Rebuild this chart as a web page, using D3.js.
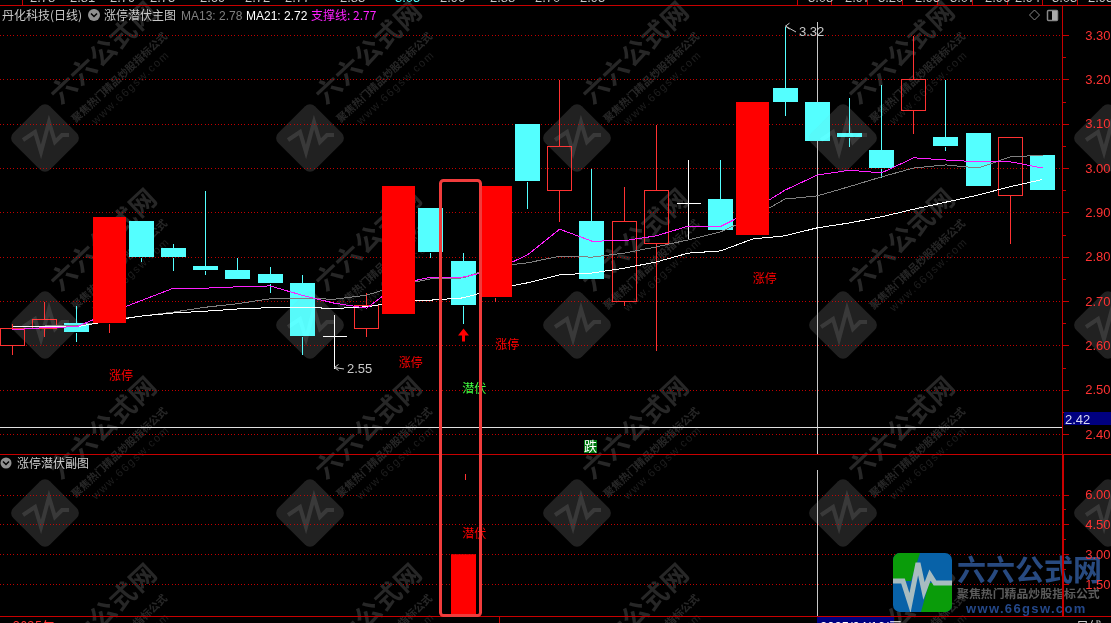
<!DOCTYPE html>
<html><head><meta charset="utf-8">
<style>html,body{margin:0;padding:0;background:#000;overflow:hidden}svg{display:block}</style>
<script src="https://cdn.jsdelivr.net/npm/d3@7/dist/d3.min.js"></script>
</head><body><div id="c"></div>
<script>
const opens  =[2.60,2.64,2.65,2.65,2.88,2.82,2.78,2.77,2.76,2.74,2.62,2.64,2.67,2.91,2.79,2.71,3.10,2.95,2.88,2.70,2.83,2.92,2.93,2.85,3.18,3.15,3.08,3.04,3.13,3.07,3.08,2.94,3.03];
const highs  =[2.65,2.70,2.69,2.89,2.88,2.83,2.95,2.80,2.78,2.76,2.67,2.72,2.96,2.91,2.81,2.96,3.10,3.20,3.00,2.96,3.10,3.02,3.02,3.15,3.32,3.15,3.16,3.19,3.30,3.20,3.08,3.07,3.03];
const lows   =[2.58,2.62,2.61,2.63,2.79,2.77,2.76,2.75,2.72,2.58,2.55,2.62,2.67,2.80,2.65,2.70,2.91,2.88,2.75,2.69,2.59,2.84,2.86,2.85,3.12,3.06,3.05,2.98,3.08,3.04,2.96,2.83,2.95];
const closes =[2.64,2.66,2.63,2.89,2.80,2.80,2.77,2.75,2.74,2.62,2.62,2.69,2.96,2.81,2.69,2.96,2.97,3.05,2.75,2.88,2.95,2.92,2.86,3.15,3.15,3.06,3.07,3.00,3.20,3.05,2.96,3.07,2.95];
const limitUpDays=[3,12,15,23];
const maWhite=[2.642,2.642,2.642,2.655,2.666,2.673,2.677,2.682,2.685,2.686,2.683,2.687,2.698,2.702,2.707,2.727,2.741,2.759,2.763,2.774,2.788,2.808,2.813,2.840,2.847,2.865,2.876,2.890,2.907,2.923,2.939,2.958,2.974];
const maGray=[null,2.644,2.644,2.657,2.666,2.675,2.686,2.694,2.705,2.706,2.704,2.713,2.736,2.750,2.752,2.778,2.786,2.801,2.799,2.808,2.822,2.838,2.856,2.889,2.930,2.937,2.958,2.980,3.000,3.007,3.000,3.025,3.029];
const support=[2.635,2.640,2.642,2.673,2.701,2.729,2.729,2.732,2.734,2.713,2.695,2.684,2.738,2.754,2.754,2.770,2.804,2.862,2.835,2.836,2.847,2.869,2.868,2.905,2.950,2.984,2.995,2.989,3.023,3.018,3.014,3.014,3.000];
const priceTicks=[3.30,3.20,3.10,3.00,2.90,2.80,2.70,2.60,2.50,2.40];
const priceMinor=[3.25,3.15,3.05,2.95,2.85,2.75,2.65,2.55,2.45];
const subTicks=[6,4.5,3,1.5];
const subMinor=[5.25,3.75,2.25];
const limitLabels=[[3,2.53],[12,2.558],[15,2.60],[23,2.748]];
const subBarDay=14, subBarValue=3.0, subTickLow=6.73, subTickHigh=7.03;
const cursorDay=25, cursorPrice=2.416;
const headerMA=["MA13: 2.78","MA21: 2.72","支撑线: 2.77"];

const W=1111,H=623,RED="#ff3232",CYAN="#54ffff",GRID="#c00000",AX="#c80000";
const CJK='"Noto Sans CJK SC","Noto Sans",sans-serif', LAT='"Liberation Sans",Arial,sans-serif';
const days=d3.range(opens.length);
const x=d3.scaleLinear().domain([0,32]).range([12.5,1042.5]);
const y=d3.scaleLinear().domain([2.40,3.30]).range([434,35]);
const ys=d3.scaleLinear().domain([0,6]).range([614,494.5]);
const px=v=>Math.floor(x(v))+.5, py=v=>Math.round(y(v))+.5;
const svg=d3.select("#c").append("svg").attr("width",W).attr("height",H).style("background","#000");
const isFull=i=>limitUpDays.includes(i);

// watermark
function watermark(op,withText){
  const wm=svg.append("g").attr("opacity",op);
  [45,310,577,843,1108].forEach(cx=>[138,325,513,700].forEach(cy=>{
    const g=wm.append("g").attr("transform",`translate(${cx},${cy})`);
    g.append("rect").attr("x",-26).attr("y",-26).attr("width",52).attr("height",52).attr("rx",7).attr("transform","rotate(45)").attr("fill","#8c8c8c");
    g.append("path").attr("d","M-22,2L-10,-6L-4,14L4,-16L10,4L17,-3L24,-3").attr("fill","none").attr("stroke","#f0f0f0").attr("stroke-width",4);
    if(!withText)return;
    const t=(dx,dy,s,size,fam,sp,w,col)=>g.append("text").attr("transform",`translate(${dx},${dy}) rotate(-43)`).attr("text-anchor","middle").attr("dominant-baseline","middle").text(s).attr("fill",col).attr("font-size",size).attr("font-family",fam).attr("letter-spacing",sp).attr("font-weight",w);
    t(60,-84,"六六公式网",26,CJK,1,700,"#c0c0c0");
    t(75,-60,"聚焦热门精品炒股指标公式",10.5,CJK,0,700,"#c0c0c0");
    t(86,-50,"www.66gsw.com",11,LAT,1.6,400,"#909090");
  }));
}
watermark(.2,true);

// grid
const grid=svg.append("g").attr("stroke",GRID).attr("stroke-dasharray","1,2.3").attr("shape-rendering","crispEdges");
priceTicks.forEach(t=>grid.append("line").attr("x1",0).attr("x2",1062).attr("y1",py(t)).attr("y2",py(t)));
subTicks.forEach(t=>{const v=Math.round(ys(t))+.5;grid.append("line").attr("x1",0).attr("x2",1062).attr("y1",v).attr("y2",v);});

// cursor
const cur=svg.append("g").attr("stroke","#c8c8c8").attr("shape-rendering","crispEdges");
cur.append("line").attr("x1",px(cursorDay)).attr("x2",px(cursorDay)).attr("y1",22).attr("y2",454);
cur.append("line").attr("x1",px(cursorDay)).attr("x2",px(cursorDay)).attr("y1",470).attr("y2",616);
cur.append("line").attr("x1",0).attr("x2",1062).attr("y1",py(cursorPrice)).attr("y2",py(cursorPrice)).attr("stroke","#e0e0e0");

// candles
function candle(g,i){
  const o=opens[i],c=closes[i],h=highs[i],l=lows[i];
  const up=c>o,doji=c===o;
  const col=doji?"#fff":up?RED:CYAN;
  const top=Math.max(o,c),bot=Math.min(o,c);
  const cx=px(i);
  const wick=(a,b)=>{if(a>b)g.append("line").attr("x1",cx).attr("x2",cx).attr("y1",py(a)).attr("y2",py(b)).attr("stroke",col);};
  wick(h,top);wick(bot,l);
  if(doji){g.append("line").attr("x1",cx-12).attr("x2",cx+12).attr("y1",py(c)).attr("y2",py(c)).attr("stroke",col);return;}
  if(isFull(i)){g.append("rect").attr("x",cx-16.5).attr("width",33).attr("y",y(top)).attr("height",y(bot)-y(top)).attr("fill","#ff0000");return;}
  if(up){g.append("rect").attr("x",cx-12).attr("width",24).attr("y",py(top)).attr("height",py(bot)-py(top)).attr("fill","none").attr("stroke",col);return;}
  g.append("rect").attr("x",cx-12.5).attr("width",25).attr("y",y(top)).attr("height",y(bot)-y(top)).attr("fill",col);
}
const gc=svg.append("g").attr("shape-rendering","crispEdges");
days.filter(i=>!isFull(i)).forEach(i=>candle(gc,i));

// MA lines
const line=d3.line().defined(d=>d.v!==null).x(d=>x(d.i)).y(d=>y(d.v));
[[maGray,"#808080"],[maWhite,"#ffffff"],[support,"#ff20ff"]].forEach(([arr,col])=>{
  svg.append("path").attr("d",line(arr.map((v,i)=>({v,i})))).attr("fill","none").attr("stroke",col).attr("stroke-width",1).attr("shape-rendering","crispEdges");
});
const gf=svg.append("g").attr("shape-rendering","crispEdges");
days.filter(isFull).forEach(i=>candle(gf,i));
watermark(.05,false);

// high / low callouts
function callout(i,price,tx,ty,label){
  const g=svg.append("g");
  const ax=px(i),ay=y(price);
  g.append("path").attr("d",`M${ax+4},${ay-3}L${ax},${ay}L${ax+4},${ay+3}M${ax},${ay}L${tx-3},${ty-4}`).attr("fill","none").attr("stroke","#c8c8c8");
  g.append("text").attr("x",tx).attr("y",ty).text(label).attr("fill","#c8c8c8").attr("font-size",13).attr("font-family",LAT);
}
callout(24,3.32,799,36,"3.32");
callout(10,2.55,347,373,"2.55");

// signals
const txt=(xx,yy,s,col,size,fam)=>svg.append("text").attr("x",xx).attr("y",yy).attr("dominant-baseline","middle").text(s).attr("fill",col).attr("font-size",size||12).attr("font-family",fam||CJK);
limitLabels.forEach(([d,p])=>txt(x(d),y(p),"涨停","#ff0000"));
txt(x(14)-1,y(2.50),"潜伏","#40ff40");
txt(x(14)-1,ys(4.0),"潜伏","#ff0000");
{const ax=px(14),ay=y(2.62);
 svg.append("path").attr("fill","#ff0000").attr("d",`M${ax},${ay-8}L${ax+5.5},${ay-1}L${ax+1.5},${ay-1}L${ax+1.5},${ay+5}L${ax-1.5},${ay+5}L${ax-1.5},${ay-1}L${ax-5.5},${ay-1}Z`);}
svg.append("rect").attr("x",584).attr("y",440).attr("width",13).attr("height",13).attr("fill","#007a10");
svg.append("text").attr("x",584).attr("y",450.5).text("跌").attr("fill","#fff").attr("font-size",13).attr("font-family",CJK);

// sub panel bar
svg.append("rect").attr("x",px(subBarDay)-12.5).attr("width",25).attr("y",ys(subBarValue)).attr("height",ys(0)-ys(subBarValue)).attr("fill","#ff0000");
svg.append("line").attr("x1",px(subBarDay)+2).attr("x2",px(subBarDay)+2).attr("y1",ys(subTickHigh)).attr("y2",ys(subTickLow)).attr("stroke","#ff3232").attr("shape-rendering","crispEdges");

// logo
const logo=svg.append("g").attr("transform","translate(893,553)");
const clip=svg.append("clipPath").attr("id","lg");clip.append("rect").attr("width",59).attr("height",59).attr("rx",7);
const lg=logo.append("g").attr("clip-path","url(#lg)");
lg.append("rect").attr("width",59).attr("height",59).attr("fill","#0862a8");
lg.append("path").attr("d","M0,0L27,0L18,28L0,28Z").attr("fill","#0a9c0a");
lg.append("path").attr("d","M28,59L36,30L59,30L59,59Z").attr("fill","#0a9c0a");
lg.append("path").attr("d","M-2,28L10,28L17,50L25,10L31,38L37,22L42,30L60,30").attr("fill","none").attr("stroke","#a8bcc0").attr("stroke-width",5);
svg.append("text").attr("x",957).attr("y",581).text("六六公式网").attr("fill","#284a80").attr("font-size",29).attr("font-family",CJK).attr("font-weight",700);
svg.append("text").attr("x",957).attr("y",598).text("聚焦热门精品炒股指标公式").attr("fill","#5c5c5c").attr("font-size",11.9).attr("font-family",CJK).attr("font-weight",700);
svg.append("text").attr("x",966).attr("y",613).text("www.66gsw.com").attr("fill","#24488a").attr("font-size",13).attr("font-family",LAT).attr("font-weight",700).attr("letter-spacing",1.35);

// axes
const fmt=d3.format(".2f");
function axis(scale,vals,minor){
  const g=svg.append("g").attr("transform","translate(1062.5,0)").call(d3.axisRight(scale).tickValues(vals).tickSize(6).tickFormat(fmt));
  g.select(".domain").remove();
  g.selectAll("line").attr("stroke",AX).attr("shape-rendering","crispEdges");
  g.selectAll("text").attr("x",48).attr("text-anchor","end").attr("fill",RED).attr("font-size",13).attr("font-family",LAT);
  const m=svg.append("g").attr("transform","translate(1062.5,0)").call(d3.axisRight(scale).tickValues(minor).tickSize(3).tickFormat(""));
  m.select(".domain").remove();
  m.selectAll("line").attr("stroke",AX).attr("shape-rendering","crispEdges");
}
axis(y,priceTicks,priceMinor);
axis(ys,subTicks,subMinor);

const rule=svg.append("g").attr("stroke",AX).attr("shape-rendering","crispEdges");
rule.append("line").attr("x1",0).attr("x2",W).attr("y1",5.5).attr("y2",5.5);
rule.append("line").attr("x1",0).attr("x2",W).attr("y1",454.5).attr("y2",454.5);
rule.append("line").attr("x1",0).attr("x2",W).attr("y1",616.5).attr("y2",616.5);
rule.append("line").attr("x1",1062.5).attr("x2",1062.5).attr("y1",5).attr("y2",454);
rule.append("line").attr("x1",1063).attr("x2",1063).attr("y1",454).attr("y2",616).attr("stroke-width",2);
rule.append("line").attr("x1",22.5).attr("x2",22.5).attr("y1",0).attr("y2",5);
[797,831,867,902,937,972,1007,1042,1077].forEach(v=>rule.append("line").attr("x1",v+.5).attr("x2",v+.5).attr("y1",0).attr("y2",5));
rule.append("line").attr("x1",499.5).attr("x2",499.5).attr("y1",617).attr("y2",623);

// clipped top strip
const topVals=[[30,"2.78"],[70,"2.81"],[110,"2.79"],[150,"2.75"],[200,"2.69"],[245,"2.72"],[285,"2.77"],[340,"2.83"],[395,"3.05"],[440,"2.96"],[490,"2.88"],[535,"2.70"],[580,"2.95"],[808,"3.08"],[845,"2.97"],[878,"3.20"],[915,"2.95"],[950,"3.07"],[985,"2.96"],[1015,"2.94"],[1052,"3.03"],[1088,"2.95"]];
topVals.forEach(([v,s],i)=>svg.append("text").attr("x",v).attr("y",1.5).text(s).attr("fill",i===8?CYAN:"#c8c8c8").attr("font-size",13).attr("font-family",LAT));

// bottom strip
svg.append("text").attr("x",13).attr("y",631).text("2025年").attr("fill",RED).attr("font-size",13).attr("font-family",CJK);
svg.append("rect").attr("x",817).attr("y",617).attr("width",77).attr("height",6).attr("fill","#000080");
svg.append("text").attr("x",820).attr("y",631).text("2025/04/16/三").attr("fill","#fff").attr("font-size",13).attr("font-family",LAT);
svg.append("text").attr("x",1076).attr("y",631).text("日线").attr("fill","#c8c8c8").attr("font-size",13).attr("font-family",CJK);

// cursor price tag
svg.append("rect").attr("x",1064).attr("y",412).attr("width",47).attr("height",13).attr("fill","#000080");
svg.append("text").attr("x",1065).attr("y",423.5).text(fmt(cursorPrice)).attr("fill","#d8d8f0").attr("font-size",13).attr("font-family",LAT);

// header
function chev(cx,cy,r){
  svg.append("circle").attr("cx",cx).attr("cy",cy).attr("r",r).attr("fill","#909090");
  svg.append("path").attr("d",`M${cx-3},${cy-1.5}L${cx},${cy+1.5}L${cx+3},${cy-1.5}`).attr("fill","none").attr("stroke","#000").attr("stroke-width",1.5);
}
svg.append("text").attr("x",2).attr("y",20).text("丹化科技(日线)").attr("fill","#c8c8c8").attr("font-size",12).attr("font-family",CJK);
chev(94,15,6);
svg.append("text").attr("x",104).attr("y",20).text("涨停潜伏主图").attr("fill","#c8c8c8").attr("font-size",12).attr("font-family",CJK);
svg.append("text").attr("x",181).attr("y",20).text(headerMA[0]).attr("fill","#808080").attr("font-size",12).attr("font-family",LAT);
svg.append("text").attr("x",246).attr("y",20).text(headerMA[1]).attr("fill","#fff").attr("font-size",12).attr("font-family",LAT);
svg.append("text").attr("x",311).attr("y",20).text(headerMA[2]).attr("fill","#ff20ff").attr("font-size",12).attr("font-family",CJK);
chev(6,463,5.5);
svg.append("text").attr("x",17).attr("y",468).text("涨停潜伏副图").attr("fill","#c8c8c8").attr("font-size",12).attr("font-family",CJK);
svg.append("path").attr("d","M1034.5,10L1039.5,15L1034.5,20L1029.5,15Z").attr("fill","none").attr("stroke","#888");
svg.append("rect").attr("x",1047.5).attr("y",10.5).attr("width",10).attr("height",10).attr("rx",1).attr("fill","none").attr("stroke","#888").attr("stroke-width",1.5);
svg.append("rect").attr("x",1052).attr("y",11).attr("width",5).attr("height",9).attr("fill","#aaa");

// highlight frame
svg.append("rect").attr("x",440.5).attr("y",180.5).attr("width",40).attr("height",435).attr("rx",3).attr("fill","none").attr("stroke","#f03c3c").attr("stroke-width",3);
</script></body></html>
